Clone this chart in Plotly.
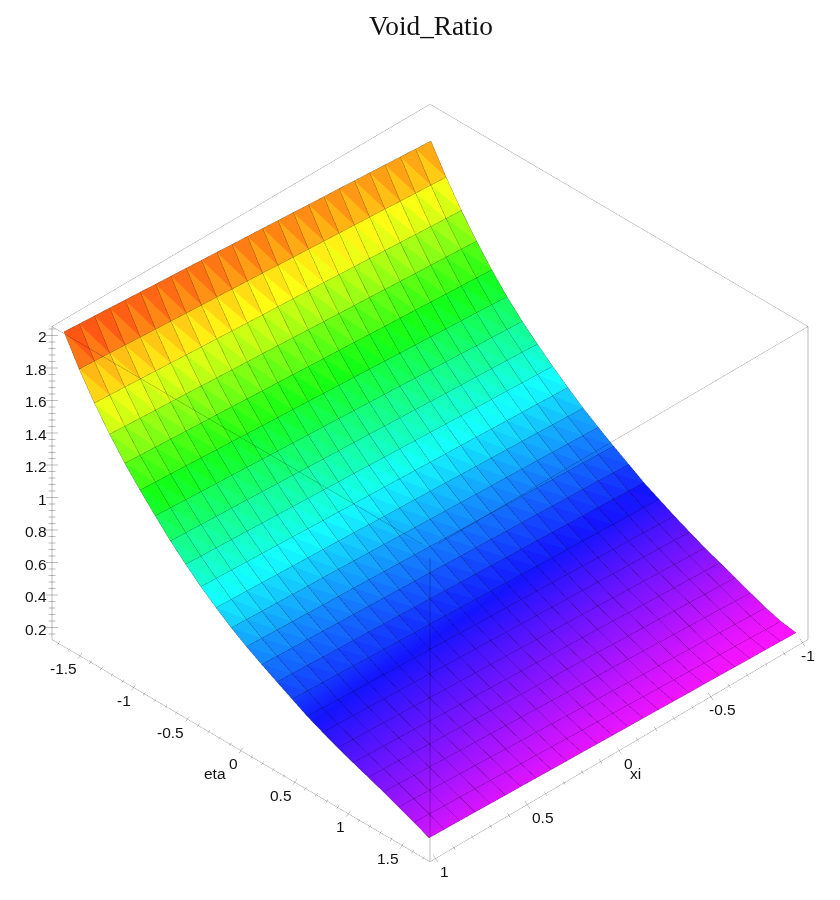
import numpy as np
import plotly.graph_objects as go

title_text = "Void_Ratio"
xi_grid = np.linspace(-1.0, 1.0, 25)
eta_grid = np.linspace(-1.7, 1.7, 25)
# rows follow eta_grid, columns follow xi_grid
void_ratio = [
[1.872,1.878,1.885,1.891,1.898,1.904,1.911,1.917,1.923,1.930,1.936,1.943,1.949,1.955,1.962,1.968,1.975,1.981,1.987,1.994,2.000,2.007,2.013,2.019,2.026],
[1.704,1.710,1.716,1.722,1.729,1.735,1.741,1.747,1.753,1.759,1.765,1.771,1.778,1.784,1.790,1.796,1.802,1.808,1.814,1.820,1.827,1.833,1.839,1.845,1.851],
[1.554,1.560,1.566,1.572,1.578,1.584,1.590,1.596,1.602,1.608,1.614,1.620,1.626,1.631,1.637,1.643,1.649,1.655,1.661,1.667,1.673,1.679,1.685,1.691,1.697],
[1.420,1.426,1.432,1.438,1.443,1.449,1.455,1.461,1.467,1.472,1.478,1.484,1.490,1.496,1.502,1.507,1.513,1.519,1.525,1.531,1.537,1.542,1.548,1.554,1.560],
[1.298,1.304,1.310,1.315,1.321,1.327,1.333,1.338,1.344,1.350,1.356,1.361,1.367,1.373,1.379,1.384,1.390,1.396,1.402,1.407,1.413,1.419,1.425,1.430,1.436],
[1.188,1.194,1.200,1.205,1.211,1.217,1.223,1.228,1.234,1.240,1.246,1.251,1.257,1.263,1.269,1.274,1.280,1.286,1.292,1.297,1.303,1.309,1.315,1.320,1.326],
[1.091,1.096,1.102,1.107,1.113,1.118,1.124,1.129,1.135,1.140,1.146,1.151,1.157,1.162,1.167,1.173,1.178,1.184,1.189,1.195,1.200,1.206,1.211,1.217,1.222],
[1.006,1.011,1.016,1.021,1.026,1.030,1.035,1.040,1.045,1.050,1.055,1.060,1.065,1.069,1.074,1.079,1.084,1.089,1.094,1.099,1.104,1.108,1.113,1.118,1.123],
[.924,.929,.933,.938,.942,.947,.951,.956,.961,.965,.970,.974,.979,.984,.988,.993,.997,1.002,1.006,1.011,1.016,1.020,1.025,1.029,1.034],
[.849,.853,.858,.862,.866,.870,.875,.879,.883,.887,.892,.896,.900,.904,.908,.913,.917,.921,.926,.930,.934,.938,.943,.947,.951],
[.777,.781,.785,.790,.794,.798,.802,.806,.810,.815,.819,.823,.827,.831,.835,.840,.844,.848,.852,.856,.860,.865,.869,.873,.877],
[.714,.718,.722,.726,.730,.734,.738,.741,.745,.749,.753,.757,.761,.765,.769,.773,.777,.781,.785,.788,.792,.796,.800,.804,.808],
[.653,.657,.661,.665,.669,.673,.677,.680,.684,.688,.692,.696,.700,.704,.708,.712,.716,.720,.724,.727,.731,.735,.739,.743,.747],
[.596,.600,.604,.608,.612,.616,.620,.624,.628,.632,.636,.640,.644,.648,.652,.656,.660,.664,.668,.672,.676,.680,.684,.688,.692],
[.538,.542,.547,.551,.555,.559,.564,.568,.572,.576,.581,.585,.589,.593,.598,.602,.606,.610,.615,.619,.623,.627,.632,.636,.640],
[.490,.494,.498,.502,.507,.511,.515,.519,.523,.527,.531,.535,.540,.544,.548,.552,.556,.560,.564,.568,.573,.577,.581,.585,.589],
[.443,.447,.451,.455,.459,.463,.467,.471,.475,.479,.483,.487,.491,.494,.498,.502,.506,.510,.514,.518,.522,.526,.530,.534,.538],
[.399,.403,.407,.411,.415,.419,.423,.427,.431,.435,.439,.443,.447,.451,.455,.459,.463,.467,.471,.475,.479,.483,.487,.491,.495],
[.357,.361,.365,.369,.373,.377,.381,.386,.390,.394,.398,.402,.406,.410,.414,.418,.422,.426,.430,.435,.439,.443,.447,.451,.455],
[.320,.324,.328,.332,.336,.340,.344,.349,.353,.357,.361,.365,.369,.373,.377,.381,.385,.389,.393,.398,.402,.406,.410,.414,.418],
[.283,.287,.291,.296,.300,.304,.308,.312,.316,.321,.325,.329,.333,.337,.341,.346,.350,.354,.358,.362,.366,.371,.375,.379,.383],
[.245,.249,.254,.258,.262,.266,.271,.275,.279,.284,.288,.292,.296,.301,.305,.309,.314,.318,.322,.326,.331,.335,.339,.344,.348],
[.208,.212,.217,.221,.225,.229,.234,.238,.242,.246,.251,.255,.259,.263,.268,.272,.276,.280,.285,.289,.293,.297,.302,.306,.310],
[.180,.184,.188,.191,.195,.199,.203,.207,.210,.214,.218,.222,.226,.229,.233,.237,.241,.244,.248,.252,.256,.260,.263,.267,.271],
[.164,.167,.170,.172,.175,.178,.181,.183,.186,.189,.192,.194,.197,.200,.203,.205,.208,.211,.214,.216,.219,.222,.225,.227,.230],
]
z_ticks = [0.2, 0.4, 0.6, 0.8, 1, 1.2, 1.4, 1.6, 1.8, 2]
eta_ticks = [-1.5, -1, -0.5, 0, 0.5, 1, 1.5]
xi_ticks = [-1, -0.5, 0, 0.5, 1]

XI0, XI1 = -1.03, 1.03
ETA0, ETA1 = -1.76, 1.76
Z0, Z1 = 0.126, 2.055
PX_XI, PX_ETA, PX_Z = 182.5, 107.5, 162.0
A = 1.282
ZA = 0.928
EYE = (0.572, 0.572, 0.588)
SMOOTH_FROM = 15  # rows below this one blend across their faces

Z = np.array(void_ratio)
nk, nj = Z.shape
X, Y = np.meshgrid(xi_grid, eta_grid)
vid = lambda k, j: k * nj + j
I, J, K, F = [], [], [], []
I2, J2, K2 = [], [], []
for k in range(nk - 1):
    for j in range(nj - 1):
        if k < SMOOTH_FROM:
            I += [vid(k, j), vid(k, j + 1)]
            J += [vid(k, j + 1), vid(k + 1, j)]
            K += [vid(k + 1, j), vid(k + 1, j + 1)]
            F += [(Z[k, j] + Z[k, j + 1] + Z[k + 1, j]) / 3,
                  (Z[k, j + 1] + Z[k + 1, j] + Z[k + 1, j + 1]) / 3]
        else:
            I2 += [vid(k, j), vid(k, j + 1)]
            J2 += [vid(k, j + 1), vid(k + 1, j)]
            K2 += [vid(k + 1, j), vid(k + 1, j + 1)]

cmin, cmax = 0.16, 2.03
stops = [(0.16, "#ff14ff"), (0.52, "#1414ff"), (0.9, "#14ffff"),
         (1.29, "#14ff14"), (1.68, "#ffff14"), (1.96, "#ff5a14"), (2.03, "#ff3814")]
colorscale = [[(v - cmin) / (cmax - cmin), c] for v, c in stops]
light = dict(ambient=1, diffuse=0, specular=0, fresnel=0, roughness=1)

fig = go.Figure()
fig.add_trace(go.Mesh3d(
    x=X.ravel(), y=Y.ravel(), z=Z.ravel(), i=I, j=J, k=K,
    intensity=F, intensitymode="cell", colorscale=colorscale, cmin=cmin, cmax=cmax,
    showscale=False, flatshading=True, hoverinfo="skip", lighting=light,
))
fig.add_trace(go.Mesh3d(
    x=X.ravel(), y=Y.ravel(), z=Z.ravel(), i=I2, j=J2, k=K2,
    intensity=Z.ravel(), intensitymode="vertex", colorscale=colorscale, cmin=cmin, cmax=cmax,
    showscale=False, flatshading=True, hoverinfo="skip", lighting=light,
))


def segs(items):
    xs, ys, zs = [], [], []
    for a, b in items:
        xs += [a[0], b[0], None]
        ys += [a[1], b[1], None]
        zs += [a[2], b[2], None]
    return xs, ys, zs


def add_lines(items, color, width=1):
    xs, ys, zs = segs(items)
    fig.add_trace(go.Scatter3d(x=xs, y=ys, z=zs, mode="lines", hoverinfo="skip",
                               line=dict(color=color, width=width), showlegend=False))


# pull the mesh lines toward the camera so that they do not fight with the faces
D = 0.03
DX = D * EYE[0] * (XI1 - XI0) / A
DY = D * EYE[1] * (ETA1 - ETA0) / A
DZ = D * EYE[2] * (Z1 - Z0) / ZA
P = lambda k, j: (X[k, j] + DX, Y[k, j] + DY, Z[k, j] + DZ)
grid = []
for k in range(nk):
    for j in range(nj - 1):
        grid.append((P(k, j), P(k, j + 1)))
for j in range(nj):
    for k in range(nk - 1):
        grid.append((P(k, j), P(k + 1, j)))
add_lines(grid, "rgba(0,0,0,0.38)")

frame = [
    ((XI0, ETA0, Z1), (XI1, ETA0, Z1)), ((XI0, ETA0, Z1), (XI0, ETA1, Z1)),
    ((XI1, ETA1, Z1), (XI1, ETA0, Z1)), ((XI1, ETA1, Z1), (XI0, ETA1, Z1)),
    ((XI1, ETA0, Z0), (XI1, ETA1, Z0)), ((XI0, ETA1, Z0), (XI1, ETA1, Z0)),
]
verticals = [
    ((XI1, ETA0, Z0), (XI1, ETA0, Z1)), ((XI0, ETA1, Z0), (XI0, ETA1, Z1)),
    ((XI1, ETA1, Z0), (XI1, ETA1, Z1)),
]


def fine(lo, hi, step):
    n = int(round((hi - lo) / step))
    return [lo + i * step for i in range(n + 1)]


ticks_z = []
for v in fine(0.16, 2.04, 0.04):
    major = abs(v / 0.2 - round(v / 0.2)) < 1e-6
    h = 6 if major else 3.5
    ticks_z.append(((XI1 + h / (2 * PX_XI), ETA0 - h / (2 * PX_ETA), v),
                    (XI1 - h / (2 * PX_XI), ETA0 + h / (2 * PX_ETA), v)))
ticks = []
for v in fine(-1.7, 1.7, 0.1):
    major = abs(v / 0.5 - round(v / 0.5)) < 1e-6
    f = 1.0 if major else 0.55
    ticks.append(((XI1 + 0.012 * f, v, Z0 - 0.011 * f), (XI1 - 0.012 * f, v, Z0 + 0.011 * f)))
for v in fine(-1.0, 1.0, 0.1):
    major = abs(v / 0.5 - round(v / 0.5)) < 1e-6
    f = 1.0 if major else 0.55
    ticks.append(((v, ETA1 - 0.023 * f, Z0 + 0.014 * f), (v, ETA1 + 0.023 * f, Z0 - 0.014 * f)))
add_lines(frame + ticks, "rgba(0,0,0,0.34)")
add_lines(verticals + ticks_z, "rgba(0,0,0,0.26)", width=2)

font = dict(family="Liberation Sans", size=15.5, color="#111111")
ann = []
for v in z_ticks:
    ann.append(dict(x=XI1, y=ETA0, z=v, text=f"{v:g}", showarrow=False, xanchor="right",
                    xshift=-3, yshift=-1.5, font=font))
for v in eta_ticks:
    ann.append(dict(x=XI1, y=v, z=Z0, text=f"{v:g}", showarrow=False, xanchor="right",
                    xshift=-1, yshift=-13, font=font))
for v in xi_ticks:
    ann.append(dict(x=v, y=ETA1, z=Z0, text=f"{v:g}", showarrow=False, xanchor="left",
                    xshift=2.5 if v >= 0 else -4, yshift=-13, font=font))
ann.append(dict(x=XI1, y=0, z=Z0, text="eta", showarrow=False, xshift=-26, yshift=-23, font=font))
ann.append(dict(x=0, y=ETA1, z=Z0, text="xi", showarrow=False, xshift=16, yshift=-23, font=font))

rx = (XI0 - 0.1, XI1 + 0.1)
ry = (ETA0 - 0.2, ETA1 + 0.2)
rz = (Z0 - 0.08, Z1 + 0.08)
hidden = dict(visible=False, showgrid=False, zeroline=False, showticklabels=False, showspikes=False)
fig.update_layout(
    width=840, height=900, margin=dict(l=0, r=0, t=0, b=0),
    paper_bgcolor="white", showlegend=False,
    title=dict(text=title_text, x=431 / 840, xanchor="center", y=1 - 25 / 900, yanchor="middle",
               font=dict(family="Liberation Serif", size=27.3, color="#111111")),
    scene=dict(
        domain=dict(x=[20 / 840, 1], y=[0, 834 / 900]),
        xaxis=dict(range=rx, **hidden), yaxis=dict(range=ry, **hidden), zaxis=dict(range=rz, **hidden),
        aspectmode="manual",
        aspectratio=dict(x=A * (rx[1] - rx[0]) / (XI1 - XI0), y=A * (ry[1] - ry[0]) / (ETA1 - ETA0),
                         z=ZA * (rz[1] - rz[0]) / (Z1 - Z0)),
        camera=dict(projection=dict(type="orthographic"), eye=dict(x=EYE[0], y=EYE[1], z=EYE[2]),
                    center=dict(x=0, y=0, z=0), up=dict(x=0, y=0, z=1)),
        annotations=ann,
    ),
)
fig.write_html("out.html", post_script="document.body.style.margin='0';document.documentElement.style.overflow='hidden';",
               config={"displayModeBar": False})
